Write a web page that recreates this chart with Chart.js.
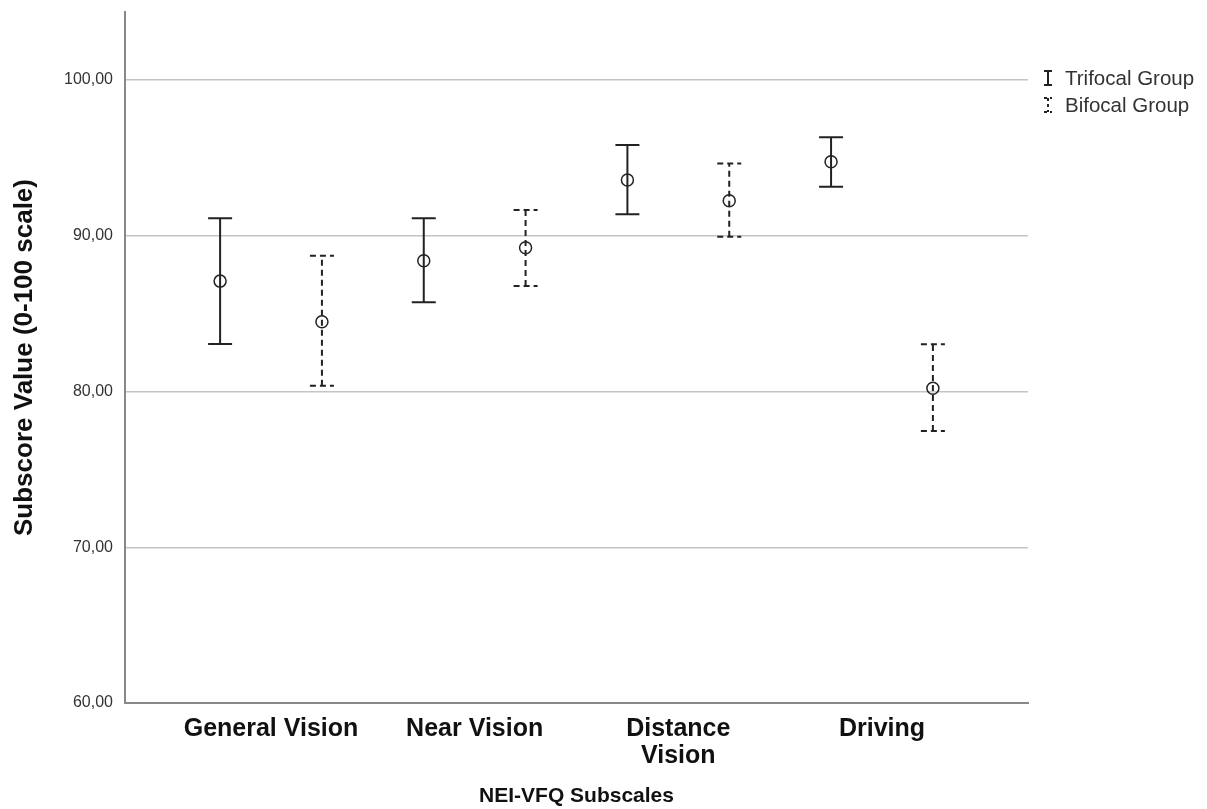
<!DOCTYPE html>
<html>
<head>
<meta charset="utf-8">
<script src="https://cdn.jsdelivr.net/npm/chart.js@4.4.1/dist/chart.umd.min.js"></script>
<style>
  html, body { margin: 0; padding: 0; background: #fff; }
  #wrap { width: 1207px; height: 809px; position: relative; }
</style>
</head>
<body>
<div id="wrap"><canvas id="chart" width="1207" height="809"></canvas></div>
<script>
// NEI-VFQ subscale means with 95% CI
const categories = ["General Vision", "Near Vision", ["Distance", "Vision"], "Driving"];
const seriesNames = ["Trifocal Group", "Bifocal Group"];

const trifocalMean  = [87.09, 88.40, 93.58, 94.75];
const trifocalLower = [83.05, 85.73, 91.38, 93.15];
const trifocalUpper = [91.12, 91.12, 95.83, 96.32];

const bifocalMean  = [84.48, 89.23, 92.25, 80.21];
const bifocalLower = [80.37, 86.77, 89.94, 77.46];
const bifocalUpper = [88.72, 91.65, 94.65, 83.03];

const yTicks = [60, 70, 80, 90, 100];

const OFFSET = 0.25;     // pair spread around the category centre
const INK = "#222";
const DASH = [6, 4];

const sans = "'Liberation Sans', Arial, sans-serif";

function pts(means, shift) {
  return means.map((m, i) => ({ x: i + shift, y: m }));
}

const errorBars = {
  id: "errorBars",
  afterDatasetsDraw(chart) {
    const ctx = chart.ctx;
    const xs = chart.scales.x, ys = chart.scales.y;
    const groups = [
      { lo: trifocalLower, hi: trifocalUpper, shift: -OFFSET, dash: [] },
      { lo: bifocalLower, hi: bifocalUpper, shift: OFFSET, dash: DASH }
    ];
    ctx.save();
    ctx.strokeStyle = INK;
    ctx.lineWidth = 2;
    groups.forEach(g => {
      ctx.setLineDash(g.dash);
      g.lo.forEach((lo, i) => {
        const x = xs.getPixelForValue(i + g.shift);
        const y1 = ys.getPixelForValue(lo);
        const y2 = ys.getPixelForValue(g.hi[i]);
        ctx.beginPath();
        ctx.moveTo(x, y1); ctx.lineTo(x, y2);
        ctx.moveTo(x - 12, y1); ctx.lineTo(x + 12, y1);
        ctx.moveTo(x - 12, y2); ctx.lineTo(x + 12, y2);
        ctx.stroke();
      });
    });
    ctx.restore();
  },
  afterDraw(chart) {
    // legend on the right
    const ctx = chart.ctx;
    ctx.save();
    ctx.strokeStyle = INK;
    ctx.lineWidth = 2;
    ctx.fillStyle = "#333";
    ctx.font = "20.5px " + sans;
    ctx.textBaseline = "middle";
    seriesNames.forEach((name, k) => {
      const cx = 1048, cy = 78 + k * 27;
      ctx.setLineDash(k === 0 ? [] : [3, 3]);
      ctx.beginPath();
      ctx.moveTo(cx, cy - 7); ctx.lineTo(cx, cy + 7);
      ctx.moveTo(cx - 4, cy - 7); ctx.lineTo(cx + 4, cy - 7);
      ctx.moveTo(cx - 4, cy + 7); ctx.lineTo(cx + 4, cy + 7);
      ctx.stroke();
      ctx.fillText(name, 1065, cy + 1);
    });
    ctx.restore();
  }
};

new Chart(document.getElementById("chart"), {
  type: "scatter",
  data: {
    datasets: [
      { label: seriesNames[0], data: pts(trifocalMean, -OFFSET) },
      { label: seriesNames[1], data: pts(bifocalMean, OFFSET) }
    ]
  },
  options: {
    responsive: false,
    animation: false,
    layout: { padding: { top: 12, right: 179, left: 0, bottom: 0 } },
    elements: {
      point: { radius: 6, borderWidth: 1.5, borderColor: INK, backgroundColor: "rgba(0,0,0,0)", pointStyle: "circle" }
    },
    plugins: { legend: { display: false }, tooltip: { enabled: false } },
    scales: {
      x: {
        type: "linear",
        min: -0.717,
        max: categories.length - 1 + 0.717,
        afterBuildTicks(scale) { scale.ticks = categories.map((c, i) => ({ value: i })); },
        afterFit(scale) { scale.height = 106; },
        grid: { display: false, drawTicks: false },
        border: { display: true, color: "#888", width: 2 },
        ticks: {
          autoSkip: false,
          maxRotation: 0,
          padding: 13,
          color: "#111",
          font: { family: sans, size: 25, weight: "bold", lineHeight: 1.08 },
          callback: (v) => categories[v]
        },
        title: {
          display: true,
          text: "NEI-VFQ Subscales",
          color: "#111",
          font: { family: sans, size: 21, weight: "bold" },
          padding: { top: 0, bottom: 0 }
        }
      },
      y: {
        min: 60,
        max: 104.37,
        afterBuildTicks(scale) { scale.ticks = yTicks.map(v => ({ value: v })); },
        afterFit(scale) {
          scale.width = 125;
          scale.paddingTop = 0;
          scale.paddingBottom = 0;
        },
        grid: {
          drawTicks: false,
          lineWidth: 1.5,
          color: (c) => c.tick && c.tick.value === 60 ? "rgba(0,0,0,0)" : "#c4c4c4"
        },
        border: { display: true, color: "#888", width: 2 },
        ticks: {
          padding: 12,
          color: "#333",
          font: { family: sans, size: 16 },
          callback: (v) => v.toFixed(2).replace(".", ",")
        },
        title: {
          display: true,
          text: "Subscore Value (0-100 scale)",
          color: "#111",
          font: { family: sans, size: 26, weight: "bold" },
          padding: { top: 9, bottom: 0 }
        }
      }
    }
  },
  plugins: [errorBars]
});
</script>
</body>
</html>
